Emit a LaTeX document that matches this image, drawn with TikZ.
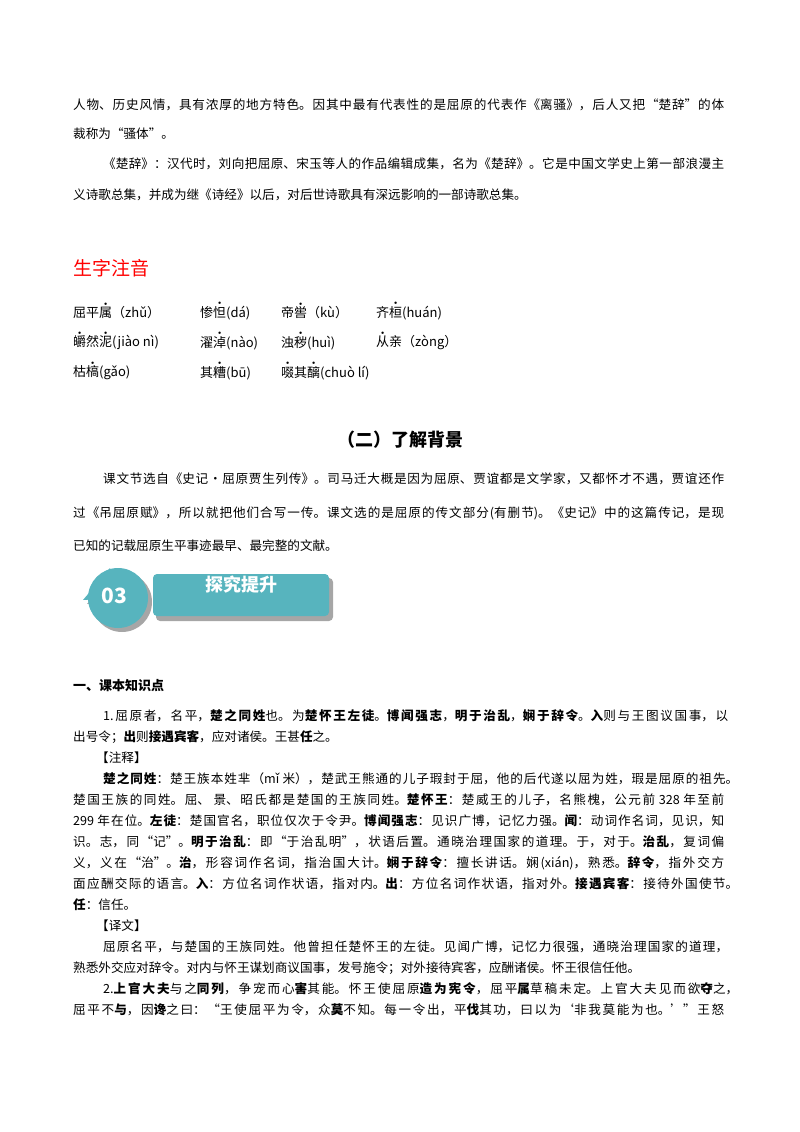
\documentclass[tikz,border=0pt]{standalone}
\usepackage{fontspec}
\setmainfont{Noto Sans CJK SC}
\usetikzlibrary{positioning,shapes,shadows}
\XeTeXlinebreaklocale "zh"
\XeTeXlinebreakskip=0pt plus 3pt
\definecolor{teal}{HTML}{57B4BE}
\newcommand\zd[1]{\makebox[0pt][l]{\makebox[1em][c]{\raisebox{0.95em}{\tiny$\bullet$}}}#1}
\newcommand\nofill{\parfillskip=0pt\relax}
\tikzset{
	txt/.style={anchor=west, inner sep=0, font=\fontsize{12.6}{16}\selectfont},
	jst/.style={txt, text width=#1, align=justify, execute at begin node=\nofill},
	full/.style={jst=651pt},
	pin/.style={txt, font=\fontsize{13}{16}\selectfont},
	badge/.pic={
		\fill (0,0) circle (30);
		\fill (-35,2) -- (-8,-30) -- (0,0) -- cycle;
	},
}
\begin{document}
\begin{tikzpicture}[x=1pt, y=-1pt]
	\useasboundingbox (0,0) rectangle (800,1132);
	% introduction
	\node (i1) [full] at (73,105) {人物、历史风情，具有浓厚的地方特色。因其中最有代表性的是屈原的代表作《离骚》，后人又把“楚辞”的体};
	\node (i2) [txt] at (73,134) {裁称为“骚体”。};
	\node (i3) [jst=621pt] at (103,164) {《楚辞》：汉代时，刘向把屈原、宋玉等人的作品编辑成集，名为《楚辞》。它是中国文学史上第一部浪漫主};
	\node (i4) [txt] at (73,195) {义诗歌总集，并成为继《诗经》以后，对后世诗歌具有深远影响的一部诗歌总集。};
	% pronunciation
	\node (zy) [txt, font=\fontsize{19}{22}\selectfont, text=red] at (73,268) {生字注音};
	\node (p11) [pin] at (73,311) {屈平\zd{属}（zhǔ）};
	\node (p12) [pin] at (200,311) {惨\zd{怛}(dá)};
	\node (p13) [pin] at (281,311) {帝\zd{喾}（kù）};
	\node (p14) [pin] at (376,311) {齐\zd{桓}(huán)};
	\node (p21) [pin] at (73,341) {\zd{皭}然\zd{泥}(jiào nì)};
	\node (p22) [pin] at (200,341) {濯\zd{淖}(nào)};
	\node (p23) [pin] at (281,341) {浊\zd{秽}(huì)};
	\node (p24) [pin] at (376,341) {\zd{从}亲（zòng）};
	\node (p31) [pin] at (73,371) {枯\zd{槁}(gǎo)};
	\node (p32) [pin] at (200,371) {其\zd{糟}(bū)};
	\node (p33) [pin] at (281,371) {\zd{啜}其\zd{醨}(chuò lí)};
	% background
	\node (bj) [txt, anchor=center, font=\fontsize{18}{22}\selectfont\bfseries] at (400,440) {（二）了解背景};
	\node (b1) [jst=621pt] at (103,479) {课文节选自《史记·屈原贾生列传》。司马迁大概是因为屈原、贾谊都是文学家，又都怀才不遇，贾谊还作};
	\node (b2) [full] at (73,513) {过《吊屈原赋》，所以就把他们合写一传。课文选的是屈原的传文部分(有删节)。《史记》中的这篇传记，是现};
	\node (b3) [txt] at (73,546) {已知的记载屈原生平事迹最早、最完整的文献。};
	% banner
	\pic[gray!70] at (122,602) {badge};
	\pic[teal] at (118,598) {badge};
	\node (no) [font=\fontsize{21}{22}\selectfont\bfseries, text=white] at (114,596) {03};
	\fill[gray!70, rounded corners=4pt] (156,578) rectangle (333,621);
	\node (tj) [fill=teal, rounded corners=4pt, minimum width=176pt, minimum height=42pt, inner sep=0] at (241,595) {};
	\node (tjt) [font=\fontsize{18}{20}\selectfont\bfseries, text=white] at (241,585) {探究提升};
	% knowledge
	\node (k0) [txt, font=\fontsize{13}{16}\selectfont\bfseries] at (73,686) {一、课本知识点};
	\node (k1) [jst=625pt] at (103,716) {1.屈原者，名平，\textbf{楚之同姓}也。为\textbf{楚怀王左徒}。\textbf{博闻强志}，\textbf{明于治乱}，\textbf{娴于辞令}。\textbf{入}则与王图议国事，以};
	\node (k2) [txt] at (73,737) {出号令；\textbf{出}则\textbf{接遇宾客}，应对诸侯。王甚\textbf{任}之。};
	\node (k3) [txt] at (96,758) {【注释】};
	\node (k4) [jst=635pt] at (103,779) {\textbf{楚之同姓}：楚王族本姓芈（mǐ 米），楚武王熊通的儿子瑕封于屈，他的后代遂以屈为姓，瑕是屈原的祖先。};
	\node (k5) [full] at (73,800) {楚国王族的同姓。屈、 景、昭氏都是楚国的王族同姓。\textbf{楚怀王}：楚威王的儿子，名熊槐，公元前 328 年至前};
	\node (k6) [full] at (73,821) {299 年在位。\textbf{左徒}：楚国官名，职位仅次于令尹。\textbf{博闻强志}：见识广博，记忆力强。\textbf{闻}：动词作名词，见识，知};
	\node (k7) [full] at (73,842) {识。志，同“记”。\textbf{明于治乱}：即“于治乱明”，状语后置。通晓治理国家的道理。于，对于。\textbf{治乱}，复词偏};
	\node (k8) [full] at (73,863) {义，义在“治”。\textbf{治}，形容词作名词，指治国大计。\textbf{娴于辞令}：擅长讲话。娴(xián)，熟悉。\textbf{辞令}，指外交方};
	\node (k9) [jst=665pt] at (73,884) {面应酬交际的语言。\textbf{入}：方位名词作状语，指对内。\textbf{出}：方位名词作状语，指对外。\textbf{接遇宾客}：接待外国使节。};
	\node (k10) [txt] at (73,905) {\textbf{任}：信任。};
	\node (k11) [txt] at (96,926) {【译文】};
	\node (k12) [jst=625pt] at (103,947) {屈原名平，与楚国的王族同姓。他曾担任楚怀王的左徒。见闻广博，记忆力很强，通晓治理国家的道理，};
	\node (k13) [txt] at (73,968) {熟悉外交应对辞令。对内与怀王谋划商议国事，发号施令；对外接待宾客，应酬诸侯。怀王很信任他。};
	\node (k14) [jst=635pt] at (103,989) {2.\textbf{上官大夫}与之\textbf{同列}，争宠而心\textbf{害}其能。怀王使屈原\textbf{造为宪令}，屈平\textbf{属}草稿未定。上官大夫见而欲\textbf{夺}之，};
	\node (k15) [full] at (73,1010) {屈平不\textbf{与}，因\textbf{谗}之曰：“王使屈平为令，众\textbf{莫}不知。每一令出，平\textbf{伐}其功，曰以为‘非我莫能为也。’”王怒};
\end{tikzpicture}
\end{document}
